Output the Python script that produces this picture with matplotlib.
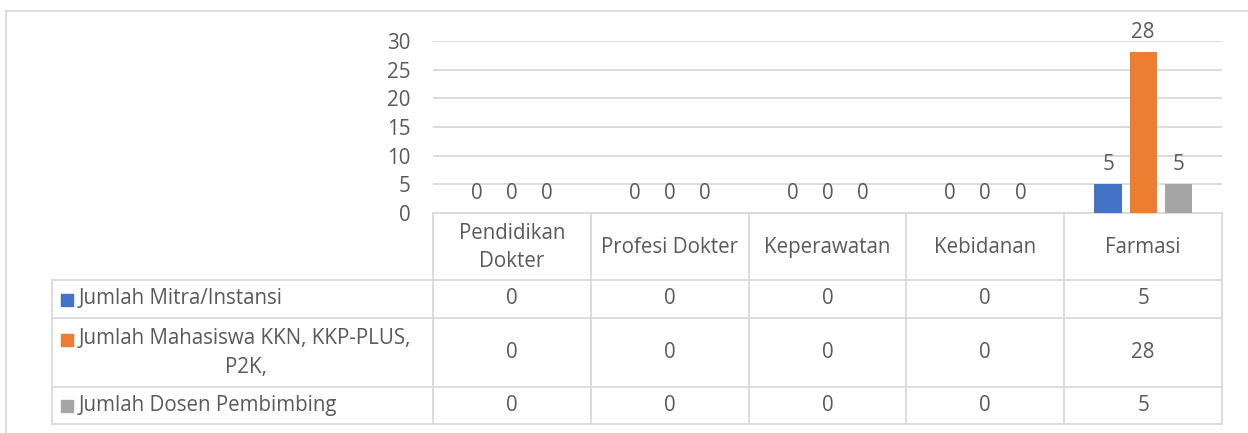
import numpy as np
import matplotlib.pyplot as plt
from matplotlib.transforms import blended_transform_factory
from matplotlib.patches import Rectangle

categories = ["Pendidikan\nDokter", "Profesi Dokter", "Keperawatan", "Kebidanan", "Farmasi"]
series_names = ["Jumlah Mitra/Instansi", "Jumlah Mahasiswa KKN, KKP-PLUS,\nP2K,", "Jumlah Dosen Pembimbing"]
mitra = [0, 0, 0, 0, 5]
mahasiswa = [0, 0, 0, 0, 28]
dosen = [0, 0, 0, 0, 5]
colors = ["#4472C4", "#ED7D31", "#A5A5A5"]

W, H = 1248, 433
TEXT = "#595959"
GRID = "#D9D9D9"
FS = 14.8
plt.rcParams['font.family'] = ['Open Sans', 'DejaVu Sans']


def fy(p):
    # pixel from top -> figure fraction
    return 1 - p / H


def fx(p):
    return p / W


fig = plt.figure(figsize=(W / 100, H / 100), dpi=100)
ax = fig.add_axes([fx(433), fy(213), fx(1222) - fx(433), fy(41) - fy(213)])

x = np.arange(len(categories))
series = [mitra, mahasiswa, dosen]
offsets = [-0.222, 0, 0.222]
for vals, off, c in zip(series, offsets, colors):
    bars = ax.bar(x + off, vals, width=0.172, color=c, zorder=3)
    for b, v in zip(bars, vals):
        ax.annotate(str(v), (b.get_x() + b.get_width() / 2, v), xytext=(0, 6.5),
                    textcoords="offset points", ha="center", va="bottom",
                    fontsize=FS, color=TEXT)

ax.set_xlim(-0.5, len(categories) - 0.5)
ax.set_ylim(0, 30)
ax.set_yticks(range(0, 31, 5))
ax.yaxis.grid(True, color=GRID, linewidth=1.3, zorder=0)
ax.tick_params(axis="y", length=0, pad=16, labelsize=FS, labelcolor=TEXT)
ax.set_xticks([])
for s in ["top", "right", "left"]:
    ax.spines[s].set_visible(False)
ax.spines["bottom"].set_color(GRID)
ax.spines["bottom"].set_linewidth(1.3)

# data table under the axis
tr = blended_transform_factory(ax.transData, fig.transFigure)
row_edges = [213, 280, 318, 387, 424]
for i in range(len(categories) + 1):
    ax.plot([i - 0.5, i - 0.5], [fy(213), fy(424)], transform=tr, color=GRID,
            linewidth=1.3, clip_on=False)
for p in row_edges[1:]:
    fig.add_artist(plt.Line2D([fx(52), fx(1222)], [fy(p), fy(p)], color=GRID, linewidth=1.3))
fig.add_artist(plt.Line2D([fx(52), fx(52)], [fy(280), fy(424)], color=GRID, linewidth=1.3))

for i, cat in enumerate(categories):
    ax.text(i, fy(247.5), cat, transform=tr, ha="center", va="center",
            fontsize=FS, color=TEXT, linespacing=1.45)

row_centers = [299, 352.5, 405.5]
for vals, rc in zip(series, row_centers):
    for i, v in enumerate(vals):
        ax.text(i, fy(rc), str(v), transform=tr, ha="center", va="center",
                fontsize=FS, color=TEXT)

# row labels with legend keys
label_lines = [299, 339, 405.5]
for name, c, ly in zip(series_names, colors, label_lines):
    first = name.split("\n")[0]
    fig.add_artist(Rectangle((fx(61), fy(ly + 6.5)), fx(12), 12 / H, color=c,
                             transform=fig.transFigure))
    fig.text(fx(79), fy(ly), first, ha="left", va="center", fontsize=FS, color=TEXT)
    if "\n" in name:
        fig.text(fx(246), fy(ly + 28), name.split("\n")[1], ha="center", va="center",
                 fontsize=FS, color=TEXT)

# outer chart frame
fig.add_artist(plt.Line2D([fx(6), fx(6)], [fy(11), 0], color=GRID, linewidth=1.3))
fig.add_artist(plt.Line2D([fx(6), 1], [fy(11), fy(11)], color=GRID, linewidth=1.3))

fig.savefig("out.png", dpi=100)
